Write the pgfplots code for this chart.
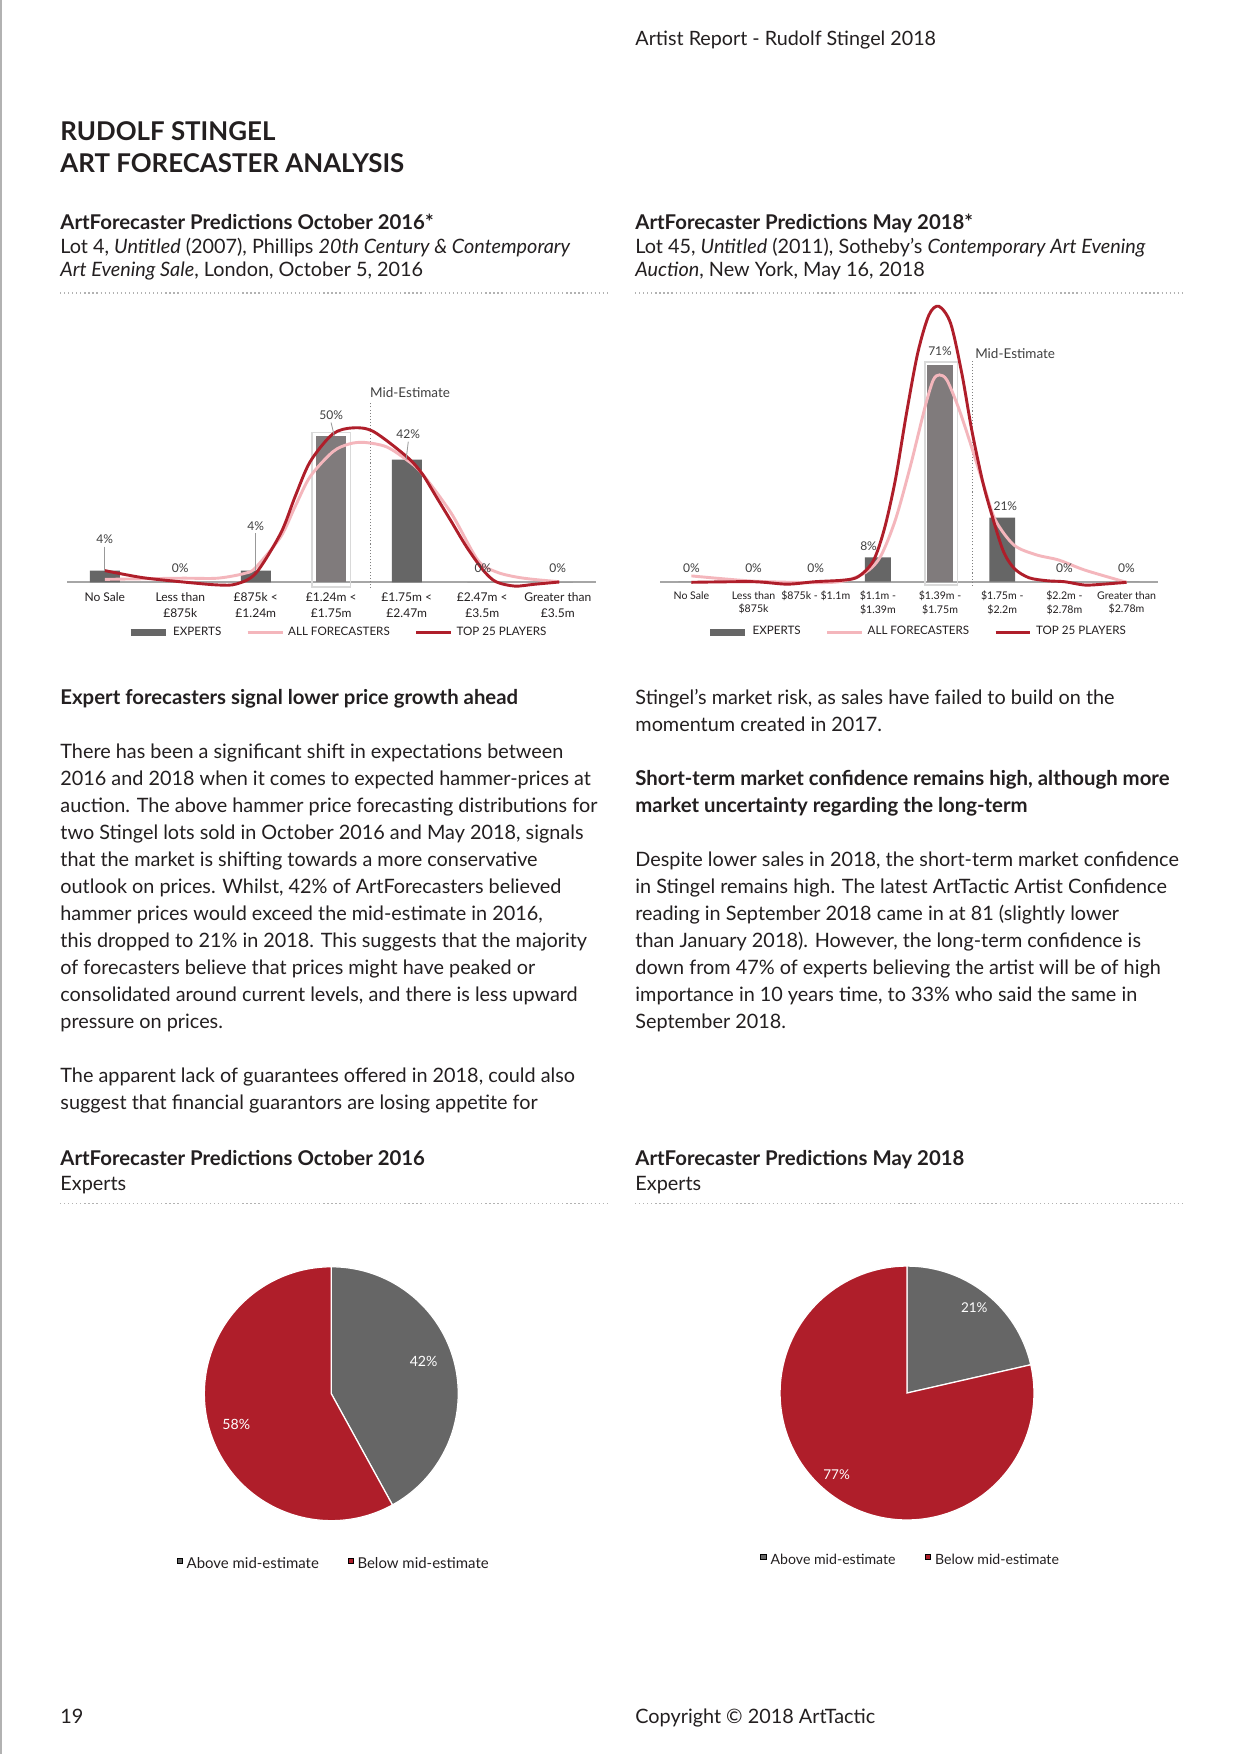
\documentclass[border=0pt]{standalone}
\usepackage{fontspec}
\setmainfont{Lato}
\usepackage{pgfplots}
\pgfplotsset{compat=1.18}
\definecolor{rd}{HTML}{AF1E2A}
\definecolor{pk}{HTML}{F4B6BC}
\definecolor{dg}{HTML}{666666}
\definecolor{lg}{HTML}{807B7C}
\definecolor{bx}{HTML}{D9D9D9}
\definecolor{tx}{HTML}{231F20}
\definecolor{ax}{HTML}{A6A6A6}
\definecolor{lb}{HTML}{404040}
\newcommand{\bodyf}{\fontsize{9.55}{13}\selectfont}
\newcommand{\boldf}{\fontsize{9.8}{13}\selectfont\bfseries}
\newcommand{\T}[3]{\node[anchor=base west,inner sep=0pt,text=tx,font=\bodyf] at (#1,#2) {#3};}
\newcommand{\B}[3]{\node[anchor=base west,inner sep=0pt,text=tx,font=\boldf] at (#1,#2) {#3};}
\newcommand{\TT}[3]{\node[anchor=base west,inner sep=0pt,text=tx,font=\fontsize{12.45}{14}\selectfont\bfseries] at (#1,#2) {#3};}
\newcommand{\rul}[3]{\draw[gray!60, line width=0.6pt, dash pattern=on 0.6pt off 1.35pt] (#1,#3) -- (#2,#3);}
\begin{document}
\begin{tikzpicture}[x=0.16922mm,y=-0.16922mm]
\useasboundingbox (0,0) rectangle (1241,1754);
\fill[white] (0,0) rectangle (1241,1754);
\draw[gray!60, line width=0.7pt] (1,0) -- (1,1754);
% header and titles
\node[anchor=base west,inner sep=0pt,text=tx,font=\fontsize{9.5}{13}\selectfont] at (635,45.7) {Artist Report - Rudolf Stingel 2018};
\TT{60}{141}{RUDOLF STINGEL}
\TT{60}{172.3}{ART FORECASTER ANALYSIS}
\B{60}{230}{ArtForecaster Predictions October 2016*}
\T{60}{253.5}{Lot 4, \textit{Untitled} (2007), Phillips \textit{20th Century \& Contemporary}}
\T{60}{276.5}{\textit{Art Evening Sale}, London, October 5, 2016}
\B{635}{229.5}{ArtForecaster Predictions May 2018*}
\T{635}{253.5}{Lot 45, \textit{Untitled} (2011), Sotheby’s \textit{Contemporary Art Evening}}
\T{635}{277}{\textit{Auction}, New York, May 16, 2018}
\rul{60}{607}{293}
\rul{635}{1183}{293}
% body left
\B{60}{704}{Expert forecasters signal lower price growth ahead}
\T{60}{758.3}{There has been a significant shift in expectations between}
\T{60}{785.3}{2016 and 2018 when it comes to expected hammer-prices at}
\T{60}{812.3}{auction. The above hammer price forecasting distributions for}
\T{60}{839.3}{two Stingel lots sold in October 2016 and May 2018, signals}
\T{60}{866.3}{that the market is shifting towards a more conservative}
\T{60}{893.3}{outlook on prices. Whilst, 42\% of ArtForecasters believed}
\T{60}{920.3}{hammer prices would exceed the mid-estimate in 2016,}
\T{60}{947.3}{this dropped to 21\% in 2018. This suggests that the majority}
\T{60}{974.3}{of forecasters believe that prices might have peaked or}
\T{60}{1001.3}{consolidated around current levels, and there is less upward}
\T{60}{1028.3}{pressure on prices.}
\T{60}{1082.7}{The apparent lack of guarantees offered in 2018, could also}
\T{60}{1109.7}{suggest that financial guarantors are losing appetite for}
% body right
\T{635}{704}{Stingel’s market risk, as sales have failed to build on the}
\T{635}{731}{momentum created in 2017.}
\B{635}{785}{Short-term market confidence remains high, although more}
\B{635}{812}{market uncertainty regarding the long-term}
\T{635}{866}{Despite lower sales in 2018, the short-term market confidence}
\T{635}{893}{in Stingel remains high. The latest ArtTactic Artist Confidence}
\T{635}{920}{reading in September 2018 came in at 81 (slightly lower}
\T{635}{947}{than January 2018). However, the long-term confidence is}
\T{635}{974}{down from 47\% of experts believing the artist will be of high}
\T{635}{1001}{importance in 10 years time, to 33\% who said the same in}
\T{635}{1028}{September 2018.}
% lower headings
\B{60}{1165.7}{ArtForecaster Predictions October 2016}
\T{60}{1190}{Experts}
\B{635}{1165.7}{ArtForecaster Predictions May 2018}
\T{635}{1190}{Experts}
\rul{60}{607}{1203.5}
\rul{635}{1183}{1203.5}
% footer
\T{60}{1723}{19}
\T{635}{1723}{Copyright © 2018 ArtTactic}

% ---------- chart 1 ----------
\coordinate (A1) at (104.8,582.3);
\begin{axis}[
  at={(A1)}, anchor=origin,
  x=12.776mm, y=0.49412mm,
  xmin=-0.5, xmax=6.5, ymin=0, ymax=60,
  clip=false,
  axis line style={draw=none},
  ytick=\empty, xtick={0,1,2,3,4,5,6},
  xticklabels={No Sale,{Less than\\£875k},{£875k <\\£1.24m},{£1.24m <\\£1.75m},{£1.75m <\\£2.47m},{£2.47m <\\£3.5m},{Greater than\\£3.5m}},
  major tick length=0pt,
  xticklabel style={font=\fontsize{5.8}{7.5}\selectfont, align=center, text=tx, inner sep=0pt, anchor=north, yshift=-5pt},
  legend style={at={(axis cs:3.1,-17.3)}, anchor=center, draw=none, fill=none, inner sep=0pt,
    font=\fontsize{5.6}{6}\selectfont, text=tx, legend columns=-1,
    /tikz/every even column/.append style={column sep=10pt}},
  legend image code/.code={\draw[#1] (0pt,0pt) -- (16.8pt,0pt);},
]
\draw[ax, line width=0.8pt] (axis cs:-0.5,0) -- (axis cs:6.5,0);
\draw[bx, line width=0.8pt] (axis cs:2.744,-1.6) rectangle (axis cs:3.256,51.3);
\addplot[ybar, bar width=14.4pt, bar shift=0pt, fill=dg, draw=none, forget plot] coordinates {(0,4) (1,0) (2,4) (4,42) (5,0) (6,0)};
\addplot[ybar, bar width=14.4pt, bar shift=0pt, fill=lg, draw=none, forget plot] coordinates {(3,50)};
\draw[densely dotted, gray, line width=0.5pt] (axis cs:3.518,-2) -- (axis cs:3.518,61.4);
\node[anchor=west, inner sep=0pt, font=\fontsize{6.5}{7}\selectfont, text=lb] at (axis cs:3.51,65.0) {Mid-Estimate};
\addplot[smooth, pk, line width=1.4pt, forget plot] coordinates {(0,1.0) (1,1.4) (1.49,1.4) (1.86,3.1) (2,5.1) (2.33,15.6) (2.52,25.9) (2.72,36.2) (3.02,44.7) (3.24,47.4) (3.44,47.9) (3.73,46.4) (4,41.9) (4.2,37.3) (4.59,23.6) (4.94,7.6) (5.18,3.6) (5.43,1.9) (5.68,1.0) (6.02,0.2)};
\addplot[smooth, rd, line width=1.4pt, forget plot] coordinates {(0,4.0) (0.5,1.6) (1,0.2) (1.49,-0.9) (1.74,-0.6) (2,3.1) (2.33,16.8) (2.52,29.3) (2.72,41.3) (3.02,50.8) (3.29,52.9) (3.56,51.6) (4,43) (4.2,37.3) (4.39,29.3) (4.59,20.8) (4.79,12.2) (5.01,4.2) (5.18,0.2) (5.43,-1.3) (5.68,-0.7) (6.02,0.1)};
\draw[gray!80, line width=0.4pt] (axis cs:0,12.2) -- (axis cs:0,4);
\draw[gray!80, line width=0.4pt] (axis cs:2,16.8) -- (axis cs:2,4);
\draw[gray!80, line width=0.4pt] (axis cs:2.997,54.7) -- (axis cs:3.04,50.1);
\draw[gray!80, line width=0.4pt] (axis cs:4.02,48.2) -- (axis cs:3.99,41.9);
\begin{scope}[every node/.style={font=\fontsize{5.8}{6}\selectfont, text=lb, inner sep=0pt}]
\node at (axis cs:0,14.7) {4\%};
\node at (axis cs:1,4.7) {0\%};
\node at (axis cs:2,19.3) {4\%};
\node at (axis cs:3.0,57.4) {50\%};
\node at (axis cs:4.02,50.8) {42\%};
\node at (axis cs:5.01,4.7) {0\%};
\node at (axis cs:6.0,4.7) {0\%};
\end{scope}
\addlegendimage{dg, line width=3.4pt}
\addlegendentry{EXPERTS}
\addlegendimage{pk, line width=1.4pt}
\addlegendentry{ALL FORECASTERS}
\addlegendimage{rd, line width=1.4pt}
\addlegendentry{TOP 25 PLAYERS}
\end{axis}

% ---------- chart 2 ----------
\coordinate (A2) at (691.4,581.7);
\begin{axis}[
  at={(A2)}, anchor=origin,
  x=10.519mm, y=0.51612mm,
  xmin=-0.5, xmax=7.5, ymin=0, ymax=95,
  clip=false,
  axis line style={draw=none},
  ytick=\empty, xtick={0,1,2,3,4,5,6,7},
  xticklabels={No Sale,{Less than\\\$875k},{\$875k - \$1.1m},{\$1.1m -\\\$1.39m},{\$1.39m -\\\$1.75m},{\$1.75m -\\\$2.2m},{\$2.2m -\\\$2.78m},{Greater than\\\$2.78m}},
  major tick length=0pt,
  xticklabel style={font=\fontsize{5.1}{6.7}\selectfont, align=center, text=tx, inner sep=0pt, anchor=north, yshift=-4.4pt},
  legend style={at={(axis cs:3.65,-16.6)}, anchor=center, draw=none, fill=none, inner sep=0pt,
    font=\fontsize{5.6}{6}\selectfont, text=tx, legend columns=-1,
    /tikz/every even column/.append style={column sep=10pt}},
  legend image code/.code={\draw[#1] (0pt,0pt) -- (16.8pt,0pt);},
]
\draw[ax, line width=0.8pt] (axis cs:-0.5,0) -- (axis cs:7.5,0);
\draw[bx, line width=0.8pt] (axis cs:3.755,-1.1) rectangle (axis cs:4.28,72.1);
\addplot[ybar, bar width=12.5pt, bar shift=0pt, fill=dg, draw=none, forget plot] coordinates {(0,0) (1,0) (2,0) (3,8) (5,21) (6,0) (7,0)};
\addplot[ybar, bar width=12.5pt, bar shift=0pt, fill=lg, draw=none, forget plot] coordinates {(4,71)};
\draw[densely dotted, gray, line width=0.5pt] (axis cs:4.514,-1.4) -- (axis cs:4.514,72.7);
\node[anchor=west, inner sep=0pt, font=\fontsize{6.5}{7}\selectfont, text=lb] at (axis cs:4.56,74.9) {Mid-Estimate};
\addplot[smooth, pk, line width=1.4pt, forget plot] coordinates {(0,1.9) (0.99,0.2) (1.99,-0.3) (2.44,0.2) (2.8,3.0) (3.04,8.2) (3.28,20.2) (3.52,37.7) (3.76,57.4) (3.89,66.1) (3.99,67.8) (4.11,66.1) (4.29,57.4) (4.47,46.5) (4.71,31.1) (4.89,20.2) (5.19,12.0) (5.55,8.8) (5.91,7.1) (6.33,3.8) (7,-0.2)};
\addplot[smooth, rd, line width=1.4pt, forget plot] coordinates {(0,-0.2) (0.99,0) (1.54,-0.8) (1.99,0) (2.44,0.5) (2.68,1.6) (2.92,6.6) (3.1,17) (3.28,33.3) (3.46,55.2) (3.64,74.9) (3.82,87.4) (3.98,90.3) (4.17,84.7) (4.35,68.3) (4.51,49.7) (4.68,33.3) (4.81,23.5) (5.01,10.4) (5.19,4.4) (5.43,1.3) (5.73,0.3) (6,0) (6.33,-1.1) (6.63,-0.8) (7,-0.2)};
\begin{scope}[every node/.style={font=\fontsize{5.8}{6}\selectfont, text=lb, inner sep=0pt}]
\node at (axis cs:0,4.3) {0\%};
\node at (axis cs:1,4.3) {0\%};
\node at (axis cs:2,4.3) {0\%};
\node at (axis cs:2.85,11.8) {8\%};
\node at (axis cs:4.0,75.7) {71\%};
\node at (axis cs:5.05,24.9) {21\%};
\node at (axis cs:6,4.3) {0\%};
\node at (axis cs:7,4.3) {0\%};
\end{scope}
\addlegendimage{dg, line width=3.4pt}
\addlegendentry{EXPERTS}
\addlegendimage{pk, line width=1.4pt}
\addlegendentry{ALL FORECASTERS}
\addlegendimage{rd, line width=1.4pt}
\addlegendentry{TOP 25 PLAYERS}
\end{axis}

% ---------- pie 1 ----------
\pgfmathsetmacro{\aA}{90-360*42/(42+58)}
\coordinate (P1) at (331.3,1393.7);
\begin{axis}[
  at={(P1)}, anchor=origin, x=21.49mm, y=21.49mm,
  xmin=-1, xmax=1, ymin=-1, ymax=1, hide axis, clip=false,
  legend style={at={(axis cs:0.029,-1.349)}, anchor=center, draw=none, fill=none, inner sep=0pt,
    font=\fontsize{7.2}{8}\selectfont, text=tx, legend columns=-1,
    /tikz/every even column/.append style={column sep=12pt}},
  legend image code/.code={\fill[#1] (0pt,0.9pt) rectangle (2.2pt,3.1pt);},
]
\fill[dg, draw=white, line width=0.6pt] (axis cs:0,0) -- ++(90:61.12pt) arc[start angle=90, end angle=\aA, radius=61.12pt] -- cycle;
\fill[rd, draw=white, line width=0.6pt] (axis cs:0,0) -- ++(\aA:61.12pt) arc[start angle=\aA, end angle=-270, radius=61.12pt] -- cycle;
\node[text=white, font=\fontsize{6.8}{7}\selectfont, inner sep=0pt] at (axis cs:0.727,0.253) {42\%};
\node[text=white, font=\fontsize{6.8}{7}\selectfont, inner sep=0pt] at (axis cs:-0.748,-0.242) {58\%};
\addlegendimage{fill=dg}
\addlegendentry{Above mid-estimate}
\addlegendimage{fill=rd}
\addlegendentry{Below mid-estimate}
\end{axis}

% ---------- pie 2 ----------
\pgfmathsetmacro{\aB}{90-360*21/(21+77)}
\coordinate (P2) at (907,1393);
\begin{axis}[
  at={(P2)}, anchor=origin, x=21.49mm, y=21.49mm,
  xmin=-1, xmax=1, ymin=-1, ymax=1, hide axis, clip=false,
  legend style={at={(axis cs:0.037,-1.323)}, anchor=center, draw=none, fill=none, inner sep=0pt,
    font=\fontsize{6.8}{8}\selectfont, text=tx, legend columns=-1,
    /tikz/every even column/.append style={column sep=12pt}},
  legend image code/.code={\fill[#1] (0pt,0.9pt) rectangle (2.6pt,3.1pt);},
]
\fill[dg, draw=white, line width=0.6pt] (axis cs:0,0) -- ++(90:61.12pt) arc[start angle=90, end angle=\aB, radius=61.12pt] -- cycle;
\fill[rd, draw=white, line width=0.6pt] (axis cs:0,0) -- ++(\aB:61.12pt) arc[start angle=\aB, end angle=-270, radius=61.12pt] -- cycle;
\node[text=white, font=\fontsize{6.5}{7}\selectfont, inner sep=0pt] at (axis cs:0.53,0.672) {21\%};
\node[text=white, font=\fontsize{6.5}{7}\selectfont, inner sep=0pt] at (axis cs:-0.554,-0.646) {77\%};
\addlegendimage{fill=dg}
\addlegendentry{Above mid-estimate}
\addlegendimage{fill=rd}
\addlegendentry{Below mid-estimate}
\end{axis}
\end{tikzpicture}
\end{document}
